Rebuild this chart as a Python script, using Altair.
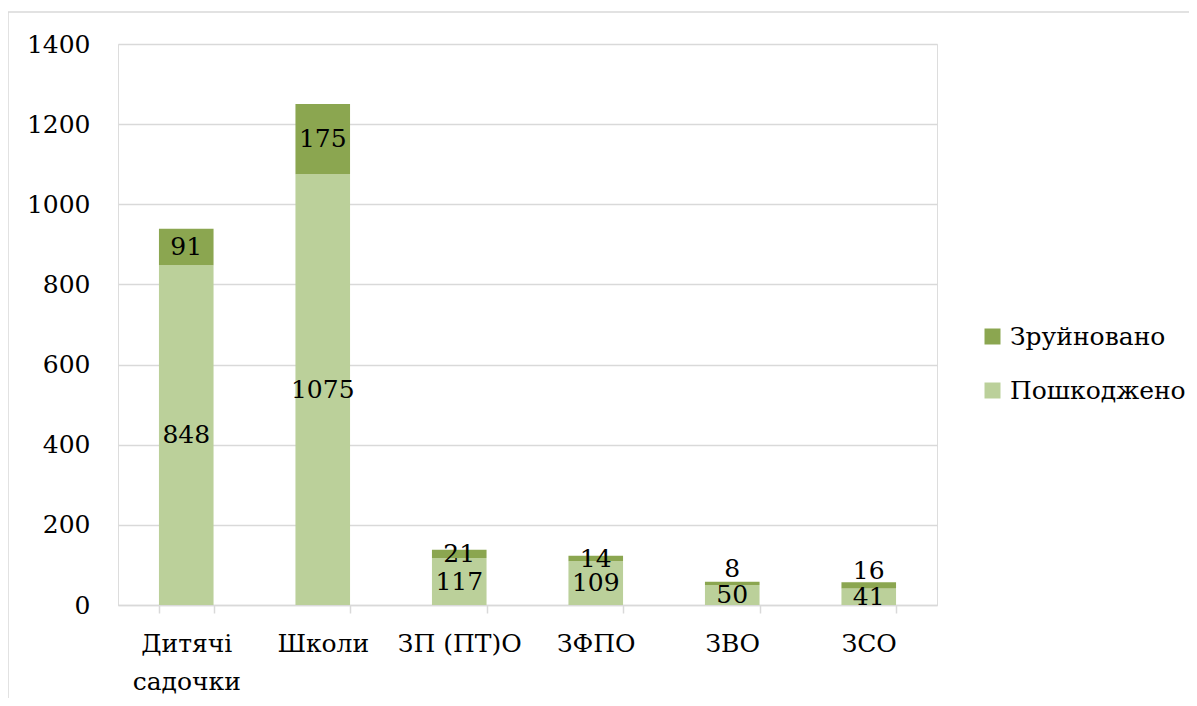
import altair as alt
import pandas as pd

categories = ["Дитячі садочки", "Школи", "ЗП (ПТ)О", "ЗФПО", "ЗВО", "ЗСО"]
damaged = [848, 1075, 117, 109, 50, 41]
destroyed = [91, 175, 21, 14, 8, 16]
series = ["Зруйновано", "Пошкоджено"]
colors = ["#8BA650", "#BBD09A"]
y_ticks = [0, 200, 400, 600, 800, 1000, 1200, 1400]

FONT = "DejaVu Serif"
FS = 25

wide = pd.DataFrame({"cat": categories, "dmg": damaged, "dst": destroyed})
long = pd.DataFrame({
    "cat": categories + categories,
    "status": ["Пошкоджено"] * len(categories) + ["Зруйновано"] * len(categories),
    "value": damaged + destroyed,
})

x_enc = alt.X(
    "cat:N",
    sort=categories,
    title=None,
    scale=alt.Scale(paddingInner=0.6, paddingOuter=0.3),
    axis=alt.Axis(
        labelAngle=0,
        labelFont=FONT,
        labelFontSize=FS,
        labelColor="#000000",
        labelLineHeight=38,
        labelPadding=18,
        labelExpr="datum.label == 'Дитячі садочки' ? ['Дитячі', 'садочки'] : datum.label",
        domainColor="#D9D9D9",
        domainWidth=1.5,
        tickColor="#D9D9D9",
        tickWidth=1.5,
        tickSize=8,
        tickBand="extent",
        grid=False,
    ),
)

y_scale = alt.Scale(domain=[0, 1400], nice=False)

bars = alt.Chart(long).mark_bar().transform_calculate(
    ord="datum.status == 'Пошкоджено' ? 0 : 1"
).encode(
    x=x_enc,
    y=alt.Y(
        "value:Q",
        stack="zero",
        scale=y_scale,
        title=None,
        axis=alt.Axis(
            values=y_ticks,
            format="d",
            labelFont=FONT,
            labelFontSize=FS,
            labelColor="#000000",
            labelPadding=28,
            domain=False,
            ticks=False,
            gridColor="#D9D9D9",
            gridWidth=1.5,
        ),
    ),
    color=alt.Color(
        "status:N",
        scale=alt.Scale(domain=series, range=colors),
        legend=alt.Legend(
            title=None,
            orient="none",
            legendX=862,
            legendY=280,
            symbolType="square",
            symbolSize=256,
            symbolStrokeWidth=0,
            labelFont=FONT,
            labelFontSize=FS,
            labelColor="#000000",
            labelOffset=5,
            labelLimit=400,
            rowPadding=28,
        ),
    ),
    order=alt.Order("ord:Q"),
)

base_text = alt.Chart(wide).transform_calculate(
    dm="datum.dmg / 2",
    dr="datum.dmg + datum.dst / 2",
    total="datum.dmg + datum.dst",
)

txt_kw = dict(font=FONT, fontSize=FS, color="#000000", baseline="middle", align="center")

text_dmg = base_text.mark_text(**txt_kw).encode(
    x=alt.X("cat:N", sort=categories),
    y=alt.Y("dm:Q", scale=y_scale),
    text="dmg:Q",
)

text_dst = base_text.transform_filter("datum.total >= 100").mark_text(**txt_kw).encode(
    x=alt.X("cat:N", sort=categories),
    y=alt.Y("dr:Q", scale=y_scale),
    text="dst:Q",
)

text_dst_small = base_text.transform_filter("datum.total < 100").mark_text(dy=-14, **txt_kw).encode(
    x=alt.X("cat:N", sort=categories),
    y=alt.Y("dr:Q", scale=y_scale),
    text="dst:Q",
)

border = alt.Chart(pd.DataFrame({"a": [0]})).mark_rect(
    fillOpacity=0, stroke="#D9D9D9", strokeWidth=1.5
).encode(
    x=alt.value(-110), x2=alt.value(1300), y=alt.value(-32), y2=alt.value(800)
)

chart = alt.layer(border, bars, text_dmg, text_dst, text_dst_small).properties(
    width=819,
    height=561,
    autosize=alt.AutoSizeParams(type="none"),
    padding={"left": 110, "top": 36, "right": 252, "bottom": 93},
).configure_view(stroke=None).configure(background="#FFFFFF", font=FONT)

chart.save("out.html", embed_options={"renderer": "svg", "actions": False})
